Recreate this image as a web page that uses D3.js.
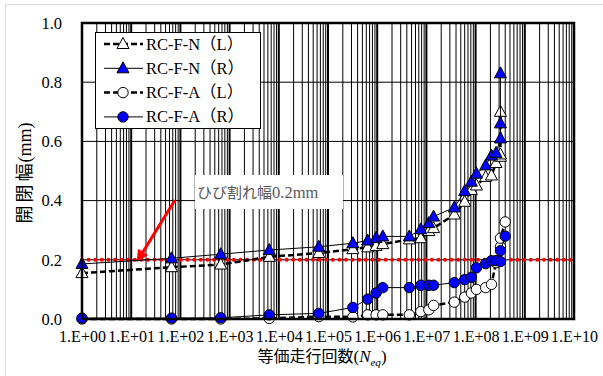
<!DOCTYPE html>
<html>
<head>
<meta charset="utf-8">
<script src="https://cdn.jsdelivr.net/npm/d3@7"></script>
<style>
  body { margin: 0; background: #fff; }
  svg { display: block; }
</style>
</head>
<body>
<svg id="chart" width="603" height="376"></svg>
<script>
// equivalent number of cycles (N_eq)
const nX = [1, 66, 660, 6400, 65000, 3.2e5, 6.4e5, 9.5e5, 1.3e6, 4.5e6, 7.7e6, 1.12e7, 1.4e7,
            3.7e7, 6.0e7, 8.2e7, 1.04e8, 1.6e8, 2.1e8, 2.6e8, 3.2e8, 3.2e8, 3.2e8]
const nL = [0.155, 0.175, 0.184, 0.210, 0.223, 0.236, 0.242, 0.247, 0.253, 0.269, 0.273, 0.297, 0.307,
            0.353, 0.396, 0.436, 0.451, 0.480, 0.485, 0.527, 0.548, 0.556, 0.700]
const nR = [0.186, 0.205, 0.219, 0.233, 0.244, 0.256, 0.265, 0.274, 0.279, 0.279, 0.303, 0.324, 0.346,
            0.377, 0.432, 0.464, 0.491, 0.519, 0.552, 0.561, 0.610, 0.661, 0.830]

const aX = [1, 66, 660, 6400, 65000, 3.2e5, 6.4e5, 9.5e5, 1.3e6, 4.5e6, 7.7e6, 1.12e7, 1.4e7,
            3.7e7, 6.0e7, 8.2e7, 1.04e8, 1.6e8, 2.1e8, 2.6e8, 3.2e8, 3.2e8, 4.0e8]
const aL = [0.0, 0.0, 0.0, 0.002, 0.008, 0.007, 0.014, 0.014, 0.014, 0.014, 0.025, 0.031, 0.046,
            0.057, 0.074, 0.088, 0.100, 0.106, 0.117, 0.190, 0.244, 0.273, 0.328]
const aR = [0.003, 0.003, 0.004, 0.014, 0.019, 0.039, 0.067, 0.088, 0.106, 0.106, 0.114, 0.114, 0.114,
            0.123, 0.133, 0.141, 0.173, 0.187, 0.197, 0.197, 0.194, 0.231, 0.280]

const xTicks = [1e0, 1e1, 1e2, 1e3, 1e4, 1e5, 1e6, 1e7, 1e8, 1e9, 1e10]
const yTicks = [0, 0.2, 0.4, 0.6, 0.8, 1.0]
const crackWidth = 0.2

const series = [
    {name: 'RC-F-N（L）', x: nX, y: nL, marker: 'tri', fill: '#fff', dash: true},
    {name: 'RC-F-N（R）', x: nX, y: nR, marker: 'tri', fill: '#0000ff', dash: false},
    {name: 'RC-F-A（L）', x: aX, y: aL, marker: 'circ', fill: '#fff', dash: true},
    {name: 'RC-F-A（R）', x: aX, y: aR, marker: 'circ', fill: '#0000ff', dash: false}
]

const serif = '"Liberation Serif", "Times New Roman", "Noto Sans CJK JP", serif'
const jp = '"Noto Sans CJK JP", sans-serif'

const plotL = 82, plotR = 574, plotT = 23, plotB = 319

const svg = d3.select('#chart')

// outer chart border (only top/left visible)
svg.append('rect')
   .attr('x', 5.5).attr('y', 4.5).attr('width', 700).attr('height', 500)
   .attr('fill', 'none').attr('stroke', '#d9d9d9')

const xScale = d3.scaleLog().domain([1, 1e10]).range([plotL, plotR])
const yScale = d3.scaleLinear().domain([0, 1]).range([plotB, plotT])

// vertical grid (every 1..9 per decade)
const minor = []
for (let e = 0; e < 10; e++) {
    for (let m = 1; m < 10; m++) minor.push(m * Math.pow(10, e))
}
svg.append('g')
   .selectAll('line')
   .data(minor)
   .enter()
   .append('line')
   .attr('x1', d => xScale(d)).attr('x2', d => xScale(d))
   .attr('y1', plotT).attr('y2', plotB)
   .attr('stroke', '#000')
   .attr('stroke-width', d => (Math.abs(Math.log10(d) % 1) < 1e-9) ? 2 : 1)

// horizontal grid
svg.append('g')
   .selectAll('line')
   .data(yTicks.slice(1, -1))
   .enter()
   .append('line')
   .attr('x1', plotL).attr('x2', plotR)
   .attr('y1', d => yScale(d)).attr('y2', d => yScale(d))
   .attr('stroke', '#000')
   .attr('stroke-width', 1)

// annotation label box (covers grid)
svg.append('rect')
   .attr('x', 195).attr('y', 175).attr('width', 148).attr('height', 34)
   .attr('fill', '#fff')
svg.append('text')
   .attr('x', 197).attr('y', 198)
   .attr('font-family', jp).attr('font-size', 15).attr('fill', '#595959')
   .text('ひび割れ幅')
   .append('tspan')
   .attr('font-family', serif).attr('font-size', 16.5)
   .text('0.2mm')

// crack width line
svg.append('line')
   .attr('x1', plotL).attr('x2', plotR)
   .attr('y1', yScale(crackWidth)).attr('y2', yScale(crackWidth))
   .attr('stroke', '#ff0000')
   .attr('stroke-width', 4)
   .attr('stroke-linecap', 'round')
   .attr('stroke-dasharray', '0,6.6')

// red arrow
svg.append('defs').append('marker')
   .attr('id', 'arrow')
   .attr('viewBox', '0 0 10 10')
   .attr('refX', 8).attr('refY', 5)
   .attr('markerWidth', 4).attr('markerHeight', 4)
   .attr('orient', 'auto')
   .append('path')
   .attr('d', 'M0,0 L10,5 L0,10 Z')
   .attr('fill', '#ff0000')
svg.append('line')
   .attr('x1', 175).attr('y1', 200).attr('x2', 138).attr('y2', 260)
   .attr('stroke', '#ff0000').attr('stroke-width', 3)
   .attr('marker-end', 'url(#arrow)')

// data
const line = d3.line().x(d => xScale(d[0])).y(d => yScale(d[1]))
const triPath = 'M0,-6.5L6,4.5L-6,4.5Z'

series.forEach(s => {
    const pts = s.x.map((v, i) => [v, s.y[i]])
    svg.append('path')
       .datum(pts)
       .attr('d', line)
       .attr('fill', 'none')
       .attr('stroke', '#000')
       .attr('stroke-width', s.dash ? 2.5 : 1)
       .attr('stroke-dasharray', s.dash ? '6,3' : null)
    const g = svg.append('g')
    if (s.marker === 'tri') {
        g.selectAll('path')
         .data(pts)
         .enter()
         .append('path')
         .attr('d', triPath)
         .attr('transform', d => 'translate(' + xScale(d[0]) + ',' + yScale(d[1]) + ')')
         .attr('fill', s.fill).attr('stroke', '#000').attr('stroke-width', 1)
    } else {
        g.selectAll('circle')
         .data(pts)
         .enter()
         .append('circle')
         .attr('cx', d => xScale(d[0])).attr('cy', d => yScale(d[1]))
         .attr('r', 5.2)
         .attr('fill', s.fill).attr('stroke', '#000').attr('stroke-width', 1)
    }
})

// plot frame
svg.append('rect')
   .attr('x', plotL).attr('y', plotT)
   .attr('width', plotR - plotL).attr('height', plotB - plotT)
   .attr('fill', 'none').attr('stroke', '#000').attr('stroke-width', 2.5)

// axes
const xAxis = d3.axisBottom(xScale)
                .tickValues(xTicks)
                .tickSize(0)
                .tickPadding(12)
                .tickFormat(d => '1.E+' + String(Math.round(Math.log10(d))).padStart(2, '0'))
const yAxis = d3.axisLeft(yScale)
                .tickValues(yTicks)
                .tickSize(0)
                .tickPadding(20)
                .tickFormat(d3.format('.1f'))

const gx = svg.append('g')
              .attr('transform', 'translate(0,' + plotB + ')')
              .call(xAxis)
const gy = svg.append('g')
              .attr('transform', 'translate(' + plotL + ',0)')
              .call(yAxis)
;[gx, gy].forEach(g => {
    g.select('.domain').remove()
    g.selectAll('text')
     .attr('font-family', serif)
     .attr('font-size', 16.5)
     .attr('fill', '#000')
})
gx.selectAll('text').attr('font-size', 16)

// axis titles
const xt = svg.append('text')
              .attr('x', 322).attr('y', 362)
              .attr('text-anchor', 'middle')
              .attr('font-family', jp).attr('font-size', 16).attr('fill', '#000')
xt.append('tspan').text('等価走行回数')
xt.append('tspan').attr('font-family', serif).attr('font-size', 17).text('(')
xt.append('tspan').attr('font-family', serif).attr('font-size', 17).attr('font-style', 'italic').text('N')
xt.append('tspan').attr('font-family', serif).attr('font-style', 'italic')
  .attr('font-size', 11).attr('dy', 4).text('eq')
xt.append('tspan').attr('font-family', serif).attr('font-size', 17).attr('dy', -4).text(')')

const yt = svg.append('text')
              .attr('transform', 'translate(31,173) rotate(-90)')
              .attr('text-anchor', 'middle')
              .attr('font-family', jp).attr('font-size', 18).attr('fill', '#000')
yt.append('tspan').attr('letter-spacing', 3).text('開閉幅')
yt.append('tspan').attr('font-family', serif).attr('font-size', 18).attr('dx', -2).text('(mm)')

// legend
const legend = svg.append('g')
legend.append('rect')
      .attr('x', 95.5).attr('y', 32.5).attr('width', 165).attr('height', 96)
      .attr('fill', '#fff').attr('stroke', '#000').attr('stroke-width', 1)
series.forEach((s, i) => {
    const ly = 44 + i * 24.3
    const li = legend.append('g')
    li.append('line')
      .attr('x1', 104).attr('x2', 143).attr('y1', ly).attr('y2', ly)
      .attr('stroke', '#000')
      .attr('stroke-width', s.dash ? 2.5 : 1)
      .attr('stroke-dasharray', s.dash ? '6,3' : null)
    if (s.marker === 'tri') {
        li.append('path').attr('d', triPath)
          .attr('transform', 'translate(123,' + ly + ')')
          .attr('fill', s.fill).attr('stroke', '#000')
    } else {
        li.append('circle').attr('cx', 123).attr('cy', ly).attr('r', 5.2)
          .attr('fill', s.fill).attr('stroke', '#000')
    }
    li.append('text')
      .attr('x', 146).attr('y', ly + 5.5)
      .attr('font-family', serif).attr('font-size', 16.5).attr('fill', '#000')
      .text(s.name)
})
</script>
</body>
</html>
